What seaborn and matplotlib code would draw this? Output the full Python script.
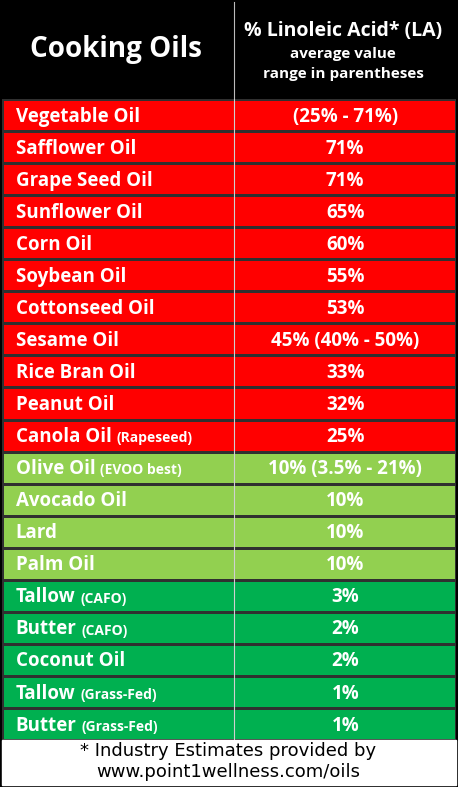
import matplotlib
matplotlib.use("Agg")
import matplotlib.pyplot as plt
import seaborn as sns
import numpy as np
from matplotlib.colors import ListedColormap

oils = ["Vegetable Oil", "Safflower Oil", "Grape Seed Oil", "Sunflower Oil", "Corn Oil",
        "Soybean Oil", "Cottonseed Oil", "Sesame Oil", "Rice Bran Oil", "Peanut Oil",
        "Canola Oil", "Olive Oil", "Avocado Oil", "Lard", "Palm Oil",
        "Tallow", "Butter", "Coconut Oil", "Tallow", "Butter"]
notes = ["", "", "", "", "", "", "", "", "", "", "(Rapeseed)", "(EVOO best)", "", "", "",
         "(CAFO)", "(CAFO)", "", "(Grass-Fed)", "(Grass-Fed)"]
values = ["(25% - 71%)", "71%", "71%", "65%", "60%", "55%", "53%", "45% (40% - 50%)",
          "33%", "32%", "25%", "10% (3.5% - 21%)", "10%", "10%", "10%",
          "3%", "2%", "2%", "1%", "1%"]
group = [0]*11 + [1]*4 + [2]*5
colors = ["#FF0000", "#92D050", "#00B050"]

W, H = 458, 787
fig = plt.figure(figsize=(W/100, H/100), dpi=100)
fig.patch.set_facecolor("black")
FONT = "Open Sans"

def fx(px): return px / W
def fy(py): return 1 - py / H

fig.add_artist(plt.Rectangle((fx(2), fy(785)), fx(454), (785-740)/H, color="white", transform=fig.transFigure))

top, bot = 99, 740
ax = fig.add_axes([fx(2), fy(bot), fx(454), (bot-top)/H])
data = np.array(group).reshape(-1, 1)
sns.heatmap(data, ax=ax, cmap=ListedColormap(colors), vmin=-0.5, vmax=2.5, cbar=False,
            linewidths=0.8, linecolor="#303030", xticklabels=False, yticklabels=False)
ax.axvline((234-2)/454, color="#d0d0d0", lw=0.8)
ax.set_xlim(0, 1)
n = len(oils)
ax.set_ylim(n, 0)

fig.canvas.draw()
r = fig.canvas.get_renderer()
for i in range(n):
    yy = i + 0.55
    t = ax.text(0.03, yy, oils[i], color="white", fontsize=13.5, fontweight="bold",
                family=FONT, va="center", ha="left")
    if notes[i]:
        bb = t.get_window_extent(renderer=r)
        x2 = ax.transData.inverted().transform((bb.x1 + 5, 0))[0]
        ax.text(x2, yy + 0.04, notes[i], color="white", fontsize=10, fontweight="bold",
                family=FONT, va="center", ha="left")
    ax.text(0.756, yy, values[i], color="white", fontsize=13.5, fontweight="bold",
            family=FONT, va="center", ha="center")

fig.add_artist(plt.Line2D([fx(234), fx(234)], [fy(2), fy(98)], color="#bbbbbb", lw=0.8))
fig.text(fx(116), fy(50), "Cooking Oils", color="white", fontsize=20, fontweight="bold",
         family=FONT, ha="center", va="center")
fig.text(fx(343), fy(31), "% Linoleic Acid* (LA)", color="white", fontsize=14, fontweight="bold",
         family=FONT, ha="center", va="center")
fig.text(fx(343), fy(54), "average value", color="white", fontsize=11, fontweight="bold",
         family=FONT, ha="center", va="center")
fig.text(fx(343), fy(74), "range in parentheses", color="white", fontsize=11, fontweight="bold",
         family=FONT, ha="center", va="center")

fig.text(fx(228), fy(751), "* Industry Estimates provided by", color="black", fontsize=13,
         family="DejaVu Sans", ha="center", va="center")
fig.text(fx(228), fy(772), "www.point1wellness.com/oils", color="black", fontsize=13,
         family="DejaVu Sans", ha="center", va="center")

fig.savefig("out.png", dpi=100, facecolor="black")
